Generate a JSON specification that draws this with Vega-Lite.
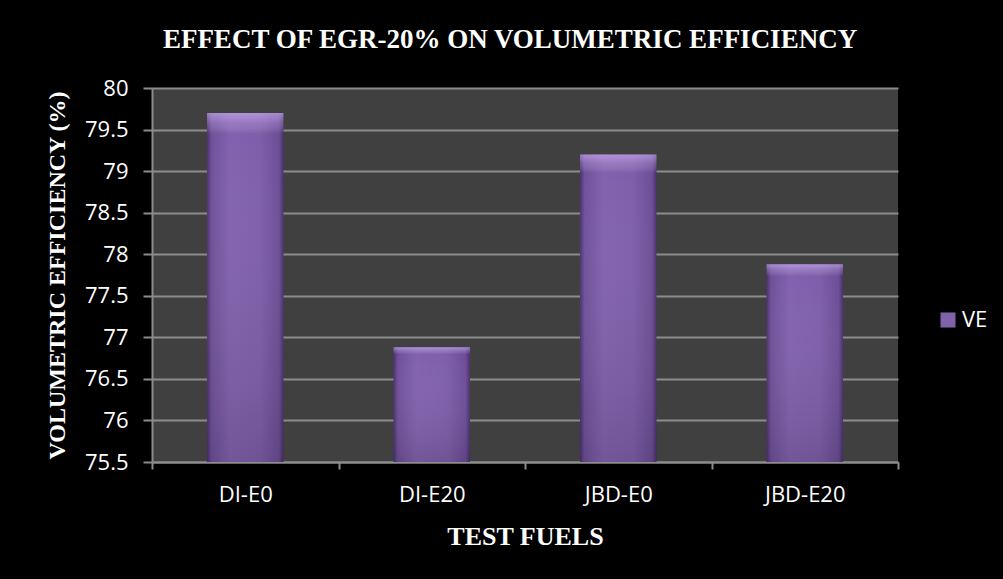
{
  "$schema": "https://vega.github.io/schema/vega-lite/v6.json",
  "width": 746,
  "height": 374,
  "autosize": {"type": "none"},
  "padding": {"left": 152, "top": 88, "right": 105, "bottom": 117},
  "background": "#000000",
  "view": {"fill": "#404040", "stroke": null},
  "title": {
    "text": "EFFECT OF EGR-20% ON VOLUMETRIC EFFICIENCY",
    "font": "Liberation Serif",
    "fontWeight": "bold",
    "fontSize": 27,
    "color": "#ffffff",
    "anchor": "middle",
    "frame": "group",
    "dx": -15,
    "offset": 23
  },
  "data": {
    "values": [
      {"fuel": "DI-E0", "ve": 79.7, "series": "VE"},
      {"fuel": "DI-E20", "ve": 76.88, "series": "VE"},
      {"fuel": "JBD-E0", "ve": 79.2, "series": "VE"},
      {"fuel": "JBD-E20", "ve": 77.88, "series": "VE"}
    ]
  },
  "encoding": {
    "x": {
      "field": "fuel",
      "type": "nominal",
      "sort": null,
      "scale": {"paddingInner": 0, "paddingOuter": 0},
      "axis": {
        "title": "TEST FUELS",
        "titleFont": "Liberation Serif",
        "titleFontWeight": "bold",
        "titleFontSize": 26,
        "titleColor": "#ffffff",
        "titleX": 373,
        "titleY": 74,
        "titleBaseline": "middle",
        "titleAlign": "center",
        "labelAngle": 0,
        "labelFont": "Open Sans",
        "labelFontSize": 22,
        "labelColor": "#ffffff",
        "labelPadding": 15,
        "domainColor": "#8c8c8c",
        "domainWidth": 2,
        "tickColor": "#8c8c8c",
        "tickWidth": 2,
        "tickSize": 7,
        "tickBand": "extent",
        "grid": false
      }
    },
    "y": {
      "field": "ve",
      "type": "quantitative",
      "scale": {"domain": [75.5, 80], "zero": false, "nice": false},
      "axis": {
        "values": [75.5, 76, 76.5, 77, 77.5, 78, 78.5, 79, 79.5, 80],
        "format": "~g",
        "title": "VOLUMETRIC EFFICIENCY (%)",
        "titleFont": "Liberation Serif",
        "titleFontWeight": "bold",
        "titleFontSize": 24,
        "titleColor": "#ffffff",
        "titleAngle": -90,
        "titleX": -95,
        "titleY": 187,
        "titleBaseline": "middle",
        "titleAlign": "center",
        "labelFont": "Open Sans",
        "labelFontSize": 22,
        "labelColor": "#ffffff",
        "labelPadding": 15,
        "domainColor": "#8c8c8c",
        "domainWidth": 2,
        "tickColor": "#8c8c8c",
        "tickWidth": 2,
        "tickSize": 9,
        "gridColor": "#8c8c8c",
        "gridWidth": 2
      }
    },
    "y2": {"datum": 75.5}
  },
  "layer": [
    {
      "mark": {
        "type": "bar",
        "width": {"band": 0.41},
        "fill": {
          "gradient": "linear",
          "x1": 0, "y1": 0, "x2": 1, "y2": 0,
          "stops": [
            {"offset": 0, "color": "#4a3070"},
            {"offset": 0.06, "color": "#6f519a"},
            {"offset": 0.3, "color": "#8262ae"},
            {"offset": 0.7, "color": "#7e5eaa"},
            {"offset": 0.94, "color": "#6c4e96"},
            {"offset": 1, "color": "#4a3070"}
          ]
        }
      },
      "encoding": {
        "color": {
          "field": "series",
          "type": "nominal",
          "scale": {"range": ["#8062ac"]},
          "legend": {
            "title": null,
            "orient": "none",
            "legendX": 785,
            "legendY": 221,
            "symbolType": "square",
            "symbolSize": 225,
            "symbolStrokeWidth": 0,
            "labelFont": "Open Sans",
            "labelFontSize": 22,
            "labelColor": "#ffffff",
            "labelOffset": 3
          }
        }
      }
    },
    {
      "mark": {
        "type": "bar",
        "width": {"band": 0.41},
        "fill": {
          "gradient": "linear",
          "x1": 0, "y1": 0, "x2": 0, "y2": 1,
          "stops": [
            {"offset": 0, "color": "rgba(215,190,250,0.55)"},
            {"offset": 0.03, "color": "rgba(215,190,250,0.25)"},
            {"offset": 0.06, "color": "rgba(255,255,255,0)"},
            {"offset": 1, "color": "rgba(0,0,0,0.12)"}
          ]
        }
      },
      "encoding": {}
    }
  ]
}
